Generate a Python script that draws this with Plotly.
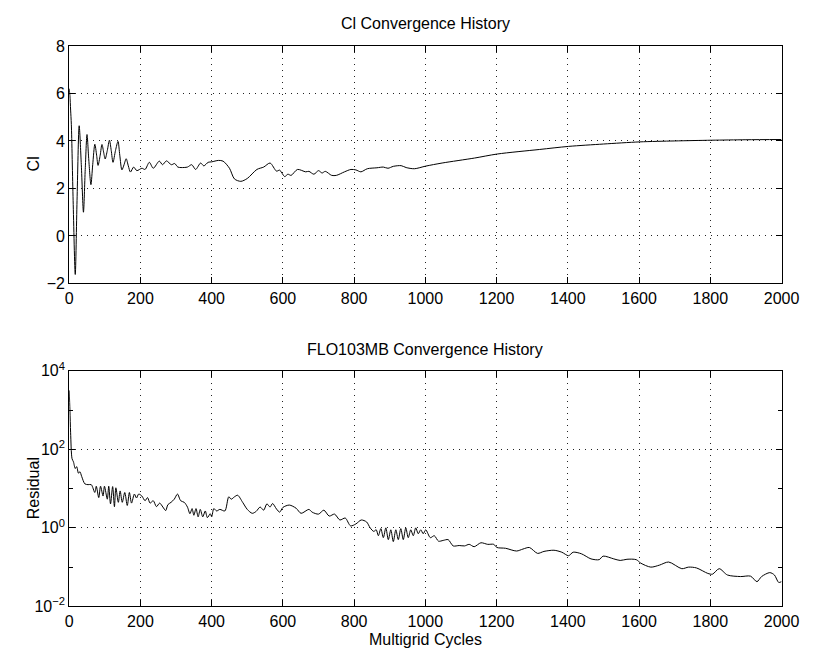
import plotly.graph_objects as go

# ---------------- data ----------------
cl_cycles = [0, 2, 4, 6, 11, 17, 22, 28, 34, 40, 45, 50, 55, 61, 66, 72, 77, 81, 87, 92, 97, 101,
             107, 113, 118, 123, 130, 137, 142, 148, 154, 160, 166, 172, 181, 190, 204, 213, 225,
             236, 253, 262, 273, 287, 296, 305, 314, 332, 344, 355, 369, 378, 390, 400, 419, 432,
             450, 464, 482, 500, 527, 546, 564, 582, 591, 605, 614, 623, 641, 664, 673, 687, 700,
             710, 719, 737, 750, 773, 791, 805, 819, 837, 864, 882, 895, 910, 932, 946, 969, 1001,
             1047, 1138, 1202, 1320, 1402, 1500, 1602, 1700, 1803, 1900, 2000]
cl_values = [6.2, 5.9, 5.3, 4.7, 1.5, -1.62, 1.5, 4.64, 3.0, 1.0, 2.8, 4.27, 3.2, 2.16, 3.0, 3.86,
             3.4, 2.97, 3.4, 3.85, 3.5, 3.24, 3.6, 4.03, 3.6, 3.1, 3.6, 3.98, 3.4, 2.78, 3.0, 3.25,
             2.95, 2.69, 2.9, 2.75, 2.85, 2.8, 3.1, 2.85, 3.15, 3.0, 3.16, 3.0, 3.05, 2.9, 2.88,
             2.9, 3.0, 2.8, 3.07, 2.95, 3.1, 3.12, 3.18, 3.15, 2.85, 2.4, 2.3, 2.42, 2.8, 2.9,
             3.07, 2.73, 2.77, 2.5, 2.6, 2.55, 2.8, 2.7, 2.72, 2.6, 2.75, 2.65, 2.72, 2.55, 2.55,
             2.7, 2.8, 2.78, 2.7, 2.83, 2.87, 2.9, 2.85, 2.93, 2.96, 2.88, 2.83, 2.94, 3.07, 3.28,
             3.45, 3.64, 3.77, 3.87, 3.96, 4.0, 4.03, 4.05, 4.06]

res_cycles = [0, 2, 4, 8, 12, 17, 21, 26, 30, 35, 44, 53, 62, 72, 76, 83, 88, 95, 99, 107, 111,
              116, 122, 127, 131, 138, 143, 149, 156, 163, 169, 175, 183, 189, 195, 204, 213, 220,
              227, 236, 245, 254, 263, 271, 277, 286, 295, 304, 313, 323, 332, 339, 345, 350, 356,
              362, 368, 375, 382, 388, 396, 400, 406, 414, 423, 437, 448, 455, 464, 473, 487, 500,
              514, 525, 536, 546, 555, 564, 571, 582, 591, 600, 618, 637, 651, 673, 682, 700, 715,
              730, 745, 760, 775, 790, 805, 820, 835, 845, 855, 862, 868, 875, 882, 889, 896, 903,
              910, 917, 924, 931, 938, 945, 952, 959, 966, 973, 980, 987, 994, 1001, 1014, 1025,
              1037, 1050, 1064, 1078, 1095, 1110, 1123, 1137, 1156, 1175, 1192, 1201, 1225, 1256,
              1274, 1292, 1315, 1333, 1361, 1383, 1402, 1415, 1438, 1465, 1488, 1499, 1529, 1547,
              1566, 1592, 1605, 1633, 1657, 1683, 1720, 1739, 1761, 1793, 1806, 1825, 1848, 1885,
              1913, 1931, 1944, 1967, 1980, 1992, 2000]
res_log10 = [3.5, 3.0, 2.42, 1.76, 1.68, 1.51, 1.56, 1.39, 1.43, 1.31, 1.12, 1.10, 1.10, 0.90,
             1.06, 0.77, 1.06, 0.81, 1.06, 0.73, 1.06, 0.61, 1.05, 0.54, 1.02, 0.65, 0.94, 0.65,
             0.90, 0.57, 0.90, 0.63, 0.86, 0.76, 0.86, 0.81, 0.69, 0.77, 0.63, 0.69, 0.54, 0.63,
             0.53, 0.44, 0.59, 0.65, 0.73, 0.86, 0.69, 0.65, 0.53, 0.36, 0.49, 0.32, 0.49, 0.28,
             0.47, 0.28, 0.43, 0.26, 0.36, 0.28, 0.49, 0.43, 0.47, 0.43, 0.79, 0.73, 0.79, 0.83,
             0.65, 0.47, 0.37, 0.42, 0.53, 0.45, 0.61, 0.53, 0.62, 0.48, 0.40, 0.52, 0.58, 0.50,
             0.37, 0.47, 0.40, 0.35, 0.45, 0.30, 0.35, 0.20, 0.25, 0.05, 0.10, 0.20, 0.15, 0.0,
             -0.09, -0.05, -0.2, -0.02, -0.25, 0.0, -0.3, -0.05, -0.35, -0.05, -0.3, -0.02, -0.3,
             0.0, -0.25, -0.05, -0.2, 0.0, -0.15, -0.05, -0.15, -0.05, -0.25, -0.2, -0.34, -0.32,
             -0.30, -0.46, -0.45, -0.46, -0.42, -0.48, -0.38, -0.42, -0.42, -0.50, -0.52, -0.59,
             -0.54, -0.50, -0.65, -0.60, -0.57, -0.62, -0.71, -0.62, -0.66, -0.79, -0.81, -0.72,
             -0.79, -0.83, -0.80, -0.81, -0.90, -1.0, -0.95, -0.87, -1.04, -1.0, -1.02, -1.16,
             -1.18, -1.04, -1.2, -1.24, -1.23, -1.37, -1.24, -1.14, -1.2, -1.39, -1.37]
res_values = [10 ** v for v in res_log10]

x_ticks = [0, 200, 400, 600, 800, 1000, 1200, 1400, 1600, 1800, 2000]
cl_ticks = [-2, 0, 2, 4, 6, 8]
cl_ticklabels = ["\u22122", "0", "2", "4", "6", "8"]
res_ticks = [1e-2, 1e0, 1e2, 1e4]
res_ticklabels = ["10<sup>\u22122</sup>", "10<sup>0</sup>", "10<sup>2</sup>", "10<sup>4</sup>"]
res_minor = [1e-1, 1e1, 1e3]

titles = ["Cl Convergence History", "FLO103MB Convergence History"]
x_label = "Multigrid Cycles"
y_labels = ["Cl", "Residual"]

# ---------------- figure ----------------
W, H = 819, 660
FONT = "Liberation Sans, Arial, Helvetica, sans-serif"
FS = 16

fig = go.Figure()
fig.add_trace(go.Scatter(x=cl_cycles, y=cl_values, mode="lines",
                         line=dict(color="black", width=1, shape="spline", smoothing=0.8),
                         xaxis="x", yaxis="y", showlegend=False))
fig.add_trace(go.Scatter(x=res_cycles, y=res_values, mode="lines",
                         line=dict(color="black", width=1, shape="spline", smoothing=0.8),
                         xaxis="x2", yaxis="y2", showlegend=False))

xdom = [67 / W, 799 / W]
top_dom = [1 - 281 / H, 1 - 36 / H]
bot_dom = [1 - 614 / H, 1 - 371 / H]

grid = dict(showgrid=True, gridcolor="#222", griddash="1px,5px", gridwidth=1)
common = dict(showline=True, linecolor="black", linewidth=1, mirror="ticks",
              ticks="inside", ticklen=6, tickcolor="black", tickwidth=1,
              zeroline=False, tickfont=dict(family=FONT, size=FS, color="black"), **grid)

fig.update_layout(
    width=W, height=H, margin=dict(l=0, r=0, t=0, b=0),
    paper_bgcolor="white", plot_bgcolor="white",
    font=dict(family=FONT, size=FS, color="black"),
    xaxis=dict(domain=xdom, anchor="y", range=[0, 2000], tickvals=x_ticks, **common),
    yaxis=dict(domain=top_dom, anchor="x", range=[-2, 8], tickvals=cl_ticks,
               ticktext=cl_ticklabels, **common),
    xaxis2=dict(domain=xdom, anchor="y2", range=[0, 2000], tickvals=x_ticks, **common),
    yaxis2=dict(domain=bot_dom, anchor="x2", type="log", range=[-2, 4], tickvals=res_ticks,
                ticktext=res_ticklabels,
                minor=dict(tickvals=res_minor, ticks="inside", ticklen=4, tickcolor="black",
                           showgrid=False),
                **common),
)

annots = [
    dict(text=titles[0], x=433 / W, y=1 - 13 / H),
    dict(text=titles[1], x=433 / W, y=1 - 349 / H),
    dict(text=x_label, x=433 / W, y=1 - 648 / H),
    dict(text=y_labels[0], x=30 / W, y=1 - 158 / H, textangle=-90),
    dict(text=y_labels[1], x=30 / W, y=1 - 492 / H, textangle=-90),
]
for a in annots:
    fig.add_annotation(xref="paper", yref="paper", showarrow=False,
                       xanchor="center", yanchor="middle",
                       font=dict(family=FONT, size=FS, color="black"), **a)

fig.write_html("out.html")
